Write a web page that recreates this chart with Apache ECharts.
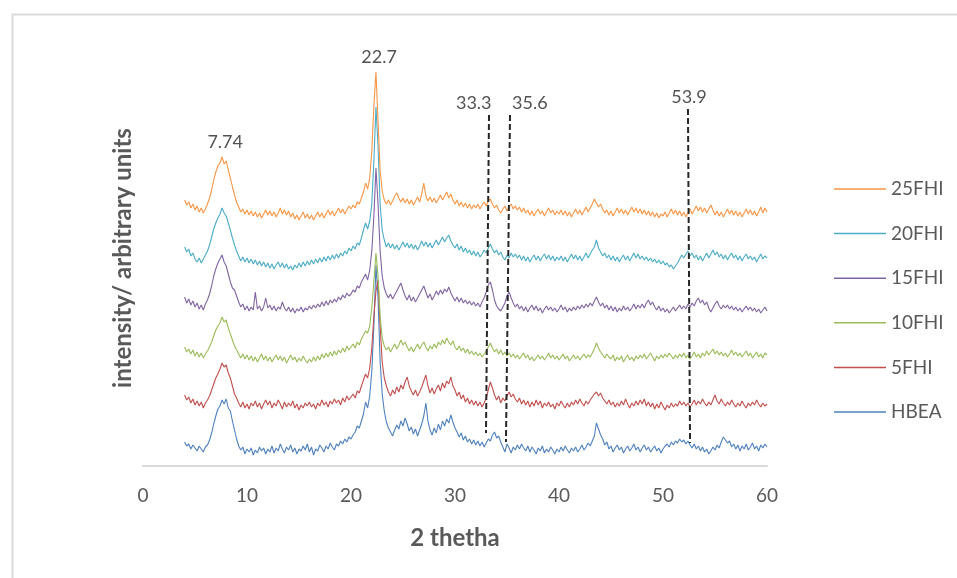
<!DOCTYPE html>
<html>
<head>
<meta charset="utf-8">
<script src="https://cdn.jsdelivr.net/npm/echarts@6/dist/echarts.min.js"></script>
<style>
  html, body { margin: 0; padding: 0; background: #fff; }
  #chart { width: 957px; height: 578px; }
</style>
</head>
<body>
<div id="chart"></div>
<script>
// scan grid: 2 theta from 4 to 60 deg, one reading every 0.2 deg
var scanStart = 4;
var scanStep = 0.2;

// intensities (arbitrary units, curves already offset)
var HBEA = [
  24,20,22,17,21,18,15,20,17,14,19,21,26,33,42,50,57,60,66,62,
  67,58,55,45,36,27,20,16,19,12,17,14,18,11,16,13,19,15,18,12,
  17,14,20,13,18,15,22,17,13,19,16,21,14,18,12,17,15,20,16,22,
  14,19,11,17,15,21,18,14,20,17,23,19,16,22,20,25,22,27,24,29,
  27,31,34,40,38,45,52,64,58,70,95,140,201,168,105,72,55,44,38,34,
  30,36,41,37,45,40,48,42,35,39,32,37,30,36,42,50,63,45,36,31,
  38,33,42,36,45,40,47,43,51,44,38,34,29,33,26,30,24,27,22,26,
  21,25,20,24,19,23,27,25,31,34,28,30,24,19,14,22,18,13,19,16,
  21,17,22,18,15,20,14,19,16,12,18,15,20,13,17,14,19,16,12,17,
  14,19,15,20,16,13,18,15,19,14,17,21,16,19,23,20,25,30,43,37,
  31,27,21,24,17,20,14,18,21,16,19,13,17,20,15,18,22,16,19,14,
  18,21,16,19,14,17,20,15,18,13,17,20,22,19,24,21,25,23,27,24,
  26,22,25,21,18,22,17,20,15,19,14,17,12,15,19,16,21,18,24,29,
  26,23,25,19,22,17,21,15,20,17,22,16,19,23,17,20,15,21,18,22,
  19
];
var FHI5 = [
  71,66,69,63,67,61,65,60,64,58,63,66,70,76,82,88,92,97,103,99,
  101,93,88,80,72,68,63,59,64,58,62,57,63,60,65,59,63,57,62,66,
  61,65,58,63,60,66,62,57,64,59,63,60,65,58,62,56,61,58,63,60,
  64,59,62,57,63,60,66,61,64,59,65,62,67,63,66,61,68,64,70,66,
  69,72,68,75,73,80,86,92,88,98,118,150,175,186,140,104,88,80,74,70,
  76,72,79,74,81,77,84,89,80,75,71,76,70,74,79,85,91,80,73,78,
  72,77,81,75,83,78,85,82,89,80,76,70,74,67,71,64,68,62,66,61,
  65,60,64,59,63,68,76,84,78,71,66,70,63,68,65,70,74,69,72,67,
  64,68,62,66,61,65,59,64,60,66,61,65,58,63,60,64,59,62,57,63,
  60,65,61,58,63,59,64,61,66,62,67,63,60,65,62,66,69,72,74,70,
  73,68,65,62,66,61,64,59,63,60,65,61,67,62,58,63,60,65,61,66,
  62,67,60,64,59,63,57,62,58,64,60,56,61,58,63,59,62,60,65,61,
  64,60,63,59,62,66,61,65,62,67,63,60,64,61,66,71,65,62,67,63,
  60,64,61,66,62,59,63,60,65,61,58,63,60,64,61,66,62,59,63,60,
  62
];
var FHI10 = [
  119,114,117,112,116,110,114,109,113,108,112,115,119,124,130,136,140,143,149,144,
  146,138,132,126,120,116,112,108,112,107,111,106,110,105,109,104,108,112,106,110,
  105,109,104,108,111,106,110,105,109,103,107,111,106,109,104,108,105,110,106,103,
  107,104,109,105,110,106,112,108,113,109,114,110,115,111,116,113,118,114,120,116,
  119,122,118,124,121,127,131,135,133,140,158,185,213,190,150,128,120,116,119,114,
  118,122,117,121,126,121,124,119,115,119,114,118,122,117,121,124,119,115,120,117,
  122,118,124,121,126,122,128,124,121,125,119,116,120,115,118,113,117,112,115,111,
  114,110,113,109,112,115,119,123,118,114,117,112,116,111,114,110,113,109,112,108,
  111,107,110,113,108,111,106,109,105,108,111,107,110,106,109,113,108,111,107,110,
  106,109,112,107,110,105,108,111,107,110,106,109,112,108,111,109,113,117,123,118,
  114,111,108,112,109,107,111,105,109,106,110,104,108,111,106,109,105,110,107,111,
  108,112,107,110,113,109,105,110,107,111,108,112,109,113,110,107,111,108,112,109,
  113,108,111,107,110,114,109,112,108,113,110,115,111,114,117,112,115,111,114,110,
  113,109,112,116,111,114,110,113,109,112,115,110,113,108,111,114,109,112,108,113,
  111
];
var FHI15 = [
  169,163,167,161,165,159,163,157,161,156,162,166,172,180,190,197,203,207,211,204,
  200,192,184,178,176,170,164,159,162,156,160,155,159,156,174,157,160,155,159,168,
  158,161,156,160,155,159,157,164,158,155,159,154,158,153,157,155,159,154,158,156,
  160,157,161,158,162,159,164,160,165,161,166,163,167,164,169,166,171,168,173,170,
  172,176,174,180,178,184,188,192,186,196,215,250,298,262,215,190,178,172,168,172,
  167,171,175,179,183,176,170,166,171,165,169,164,168,172,176,180,174,168,172,166,
  170,175,171,176,172,177,174,179,173,169,165,169,164,168,163,166,162,165,161,164,
  160,163,159,164,168,174,181,184,176,166,160,157,155,159,163,170,174,168,163,159,
  162,157,160,155,159,154,158,161,156,160,155,158,153,157,160,156,159,155,158,154,
  157,161,156,159,154,158,155,159,156,160,157,161,158,162,159,163,160,165,169,164,
  160,163,158,161,156,160,155,159,154,158,155,160,156,159,155,158,162,157,161,158,
  162,158,163,166,161,164,159,156,160,155,158,154,157,153,156,159,155,158,161,157,
  160,157,162,159,163,160,165,168,163,166,161,164,158,154,158,162,165,160,157,161,
  158,161,157,160,156,159,155,158,154,157,160,156,159,155,158,154,157,153,156,159,
  155
];
var FHI20 = [
  219,214,217,210,213,207,204,208,203,207,211,215,221,229,237,243,248,252,258,253,
  250,243,236,228,221,215,210,205,209,204,208,203,207,202,206,201,205,200,204,199,
  203,198,202,197,201,204,199,203,198,202,197,200,196,201,198,203,199,204,200,205,
  201,206,202,207,203,208,204,209,205,210,206,211,207,212,208,213,210,215,212,218,
  215,220,217,223,221,228,236,243,237,245,262,305,359,320,262,236,226,219,223,218,
  222,217,221,216,220,224,219,223,218,222,217,221,216,220,225,220,224,219,223,218,
  222,226,221,225,229,224,228,231,225,221,218,222,216,220,214,218,213,216,211,215,
  210,214,209,212,216,213,218,222,217,213,216,211,214,209,206,211,208,213,209,212,
  208,211,206,210,205,209,204,208,211,206,210,205,209,212,207,211,206,210,205,209,
  206,210,205,209,204,208,212,207,211,206,210,205,209,213,208,212,216,219,226,218,
  214,210,213,208,211,206,210,205,209,204,208,211,206,210,205,209,213,208,212,207,
  210,206,209,205,208,204,207,203,206,202,205,201,203,199,201,197,200,203,207,211,
  208,212,215,210,213,208,211,206,210,205,209,213,208,212,216,211,214,209,212,207,
  211,206,210,213,208,211,206,210,205,209,212,207,210,206,209,204,208,212,207,210,
  208
];
var FHI25 = [
  266,261,264,258,262,256,260,254,258,253,257,262,268,276,286,294,300,303,309,302,
  305,296,288,279,271,264,259,254,257,252,256,251,255,250,254,249,253,248,252,256,
  251,255,250,254,249,253,258,252,256,251,255,249,253,247,251,246,250,254,248,252,
  247,251,246,250,254,249,253,248,252,256,251,255,250,254,258,253,257,252,256,260,
  257,261,258,264,262,268,274,283,277,288,315,360,394,345,296,275,266,262,266,261,
  265,270,273,268,264,268,263,267,262,266,261,265,269,264,272,283,270,265,269,264,
  268,263,267,271,266,270,274,268,272,266,262,266,260,264,259,263,258,262,257,261,
  258,262,257,261,264,260,265,267,262,258,261,256,253,257,260,255,259,262,257,260,
  256,259,254,258,253,256,251,255,250,254,257,252,255,250,254,258,253,256,251,255,
  252,256,251,255,250,254,249,253,257,252,256,251,255,259,254,258,262,267,263,259,
  262,257,253,256,251,255,250,254,258,253,257,252,256,251,255,259,254,258,253,257,
  252,256,251,255,250,254,249,253,248,252,250,254,249,253,257,252,256,251,255,250,
  254,249,253,257,252,256,260,255,259,254,258,253,257,261,256,251,255,250,254,249,
  253,257,252,256,251,255,250,254,249,253,257,252,256,251,255,250,254,259,253,258,
  254
];

var seriesNames = ['HBEA', '5FHI', '10FHI', '15FHI', '20FHI', '25FHI'];
var seriesValues = [HBEA, FHI5, FHI10, FHI15, FHI20, FHI25];
var seriesColors = ['#4F81BD', '#C0504D', '#9BBB59', '#8064A2', '#4BACC6', '#F79646'];

// dashed marker lines: [x top, y top], [x bottom, y bottom]
var markerLines = [
  [[33.27, 351], [32.98, 33]],
  [[35.29, 351], [34.9, 24]],
  [[52.4, 357], [52.6, 23]]
];

// peak annotations
var peakLabels = ['7.74', '22.7', '33.3', '35.6', '53.9'];
var peakLabelX = [7.9, 22.7, 31.8, 37.2, 52.5];
var peakLabelY = [324, 409, 363, 363, 369];

var xTicks = { min: 0, max: 60, interval: 10 };

var fontFam = 'Lato, "Open Sans", sans-serif';
var myChart = echarts.init(document.getElementById('chart'));

function toPoints(vals) {
  var pts = [];
  for (var i = 0; i < vals.length; i++) {
    pts.push([+(scanStart + i * scanStep).toFixed(2), vals[i]]);
  }
  return pts;
}

var series = [];
seriesNames.forEach(function (name, k) {
  series.push({
    name: name,
    type: 'line',
    data: toPoints(seriesValues[k]),
    symbol: 'none',
    color: seriesColors[k],
    lineStyle: { width: 1.1, color: seriesColors[k] },
    z: 2 + k
  });
});

markerLines.forEach(function (seg, k) {
  series.push({
    name: 'marker' + k,
    type: 'line',
    data: seg,
    symbol: 'none',
    silent: true,
    lineStyle: { color: '#262626', width: 2, type: [6, 3] },
    z: 10
  });
});

series.push({
  name: 'peaks',
  type: 'scatter',
  symbolSize: 0,
  silent: true,
  data: peakLabels.map(function (t, i) { return [peakLabelX[i], peakLabelY[i], t]; }),
  label: {
    show: true,
    position: 'inside',
    formatter: function (p) { return p.data[2]; },
    color: '#262626',
    fontSize: 18,
    fontFamily: fontFam
  },
  z: 11
});

var option = {
  animation: false,
  backgroundColor: '#fff',
  graphic: [{
    type: 'rect',
    left: 10, top: 12,
    shape: { width: 1000, height: 700 },
    style: { fill: 'none', stroke: '#d9d9d9', lineWidth: 2 },
    silent: true
  }],
  grid: { left: 143, right: 190, top: 50, bottom: 112 },
  legend: {
    orient: 'vertical',
    left: 829,
    top: 174,
    icon: 'rect',
    itemWidth: 52,
    itemHeight: 1.5,
    itemGap: 24.6,
    data: seriesNames.slice().reverse(),
    textStyle: { color: '#595959', fontSize: 19, lineHeight: 20, fontFamily: fontFam }
  },
  xAxis: {
    type: 'value',
    min: xTicks.min,
    max: xTicks.max,
    interval: xTicks.interval,
    name: '2 thetha',
    nameLocation: 'middle',
    nameGap: 60,
    nameTextStyle: { color: '#595959', fontSize: 24, fontWeight: 'bold', fontFamily: fontFam },
    axisLine: { lineStyle: { color: '#d9d9d9', width: 2 } },
    axisTick: { show: false },
    splitLine: { show: false },
    axisLabel: { color: '#595959', fontSize: 19, margin: 20, fontFamily: fontFam }
  },
  yAxis: {
    type: 'value',
    min: 0,
    max: 416,
    name: 'intensity/ arbitrary units',
    nameLocation: 'middle',
    nameGap: 8,
    nameTextStyle: { color: '#595959', fontSize: 24, fontWeight: 'bold', fontFamily: fontFam },
    axisLine: { show: false },
    axisTick: { show: false },
    axisLabel: { show: false },
    splitLine: { show: false }
  },
  series: series
};

myChart.setOption(option);
window.addEventListener('resize', function () { myChart.resize(); });
</script>
</body>
</html>
